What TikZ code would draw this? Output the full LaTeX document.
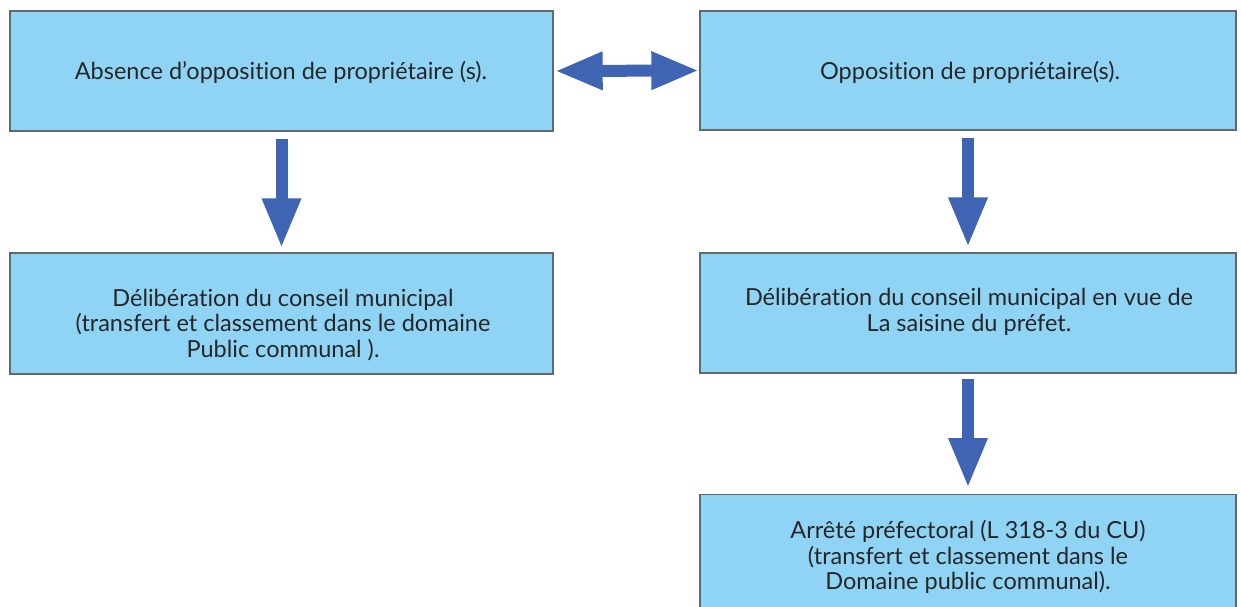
\documentclass[tikz,border=0pt]{standalone}
\usepackage{fontspec}
\setmainfont{Lato}[Ligatures=NoCommon]
\usetikzlibrary{arrows.meta}
\definecolor{boxfill}{RGB}{143,212,245}
\definecolor{boxline}{RGB}{95,105,110}
\definecolor{arrowblue}{RGB}{64,100,180}
\begin{document}
\begin{tikzpicture}[x=1pt,y=-1pt,
  flowbox/.style={draw=boxline, line width=1.4pt, fill=boxfill, rectangle, inner sep=0pt},
  boxtext/.style={align=center, inner sep=0pt, font=\fontsize{23.5}{25.3}\selectfont, text=black!85},
  fatarrow/.style={draw=arrowblue, line width=12pt,
    -{Triangle[width=36pt,length=50pt,fill=arrowblue]}},
  dblarrow/.style={draw=arrowblue, line width=12pt,
    {Triangle[width=35pt,length=48pt,fill=arrowblue]}-{Triangle[width=35pt,length=48pt,fill=arrowblue]}}
]
\useasboundingbox (0,0) rectangle (1241,607);
\clip (0,0) rectangle (1241,607);
\fill[white] (0,0) rectangle (1241,607);

\node[flowbox, minimum width=543pt, minimum height=120pt] (a) at (281.5,71) {};
\node[flowbox, minimum width=536pt, minimum height=119pt] (b) at (968,70.5) {};
\node[flowbox, minimum width=543pt, minimum height=121pt] (c) at (281.5,313.5) {};
\node[flowbox, minimum width=536pt, minimum height=120pt] (d) at (968,313) {};
\node[flowbox, minimum width=536pt, minimum height=130pt, anchor=north] (e) at (968,494) {};

\node[boxtext] (atext) at (281,72) {Absence d'opposition de propriétaire (s).};
\node[boxtext] (btext) at (970,72) {Opposition de propriétaire(s).};
\node[boxtext] (ctext) at (283,325) {Délibération du conseil municipal\\(transfert et classement dans le domaine\\Public communal ).};
\node[boxtext] (dtext) at (969,312) {Délibération du conseil municipal en vue de\\La saisine du préfet.};
\node[boxtext] (etext) at (968,557) {Arrêté préfectoral (L 318-3 du CU)\\(transfert et classement dans le\\Domaine public communal).};

\draw[dblarrow, shorten <=1pt, shorten >=0pt] (a.east) -- (b.west);
\draw[fatarrow, shorten <=7pt, shorten >=4pt] (a.south) -- (c.north);
\draw[fatarrow, shorten <=7pt, shorten >=5pt] (b.south) -- (d.north);
\draw[fatarrow, shorten <=5pt, shorten >=6pt] (d.south) -- (e.north);
\end{tikzpicture}
\end{document}
